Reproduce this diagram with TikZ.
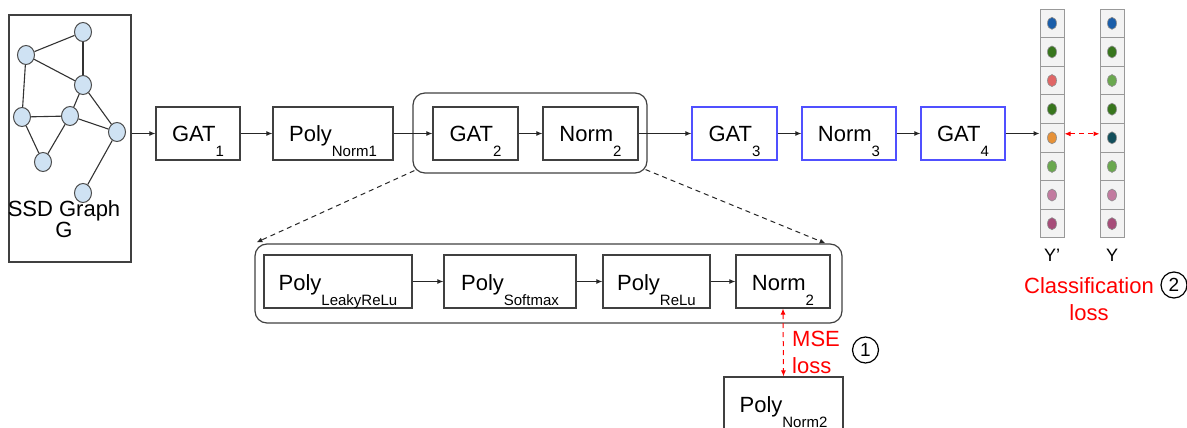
\documentclass[tikz,border=0pt]{standalone}
\usepackage{fontspec}
\setmainfont{Liberation Sans}
\usetikzlibrary{arrows.meta,shapes.geometric}
\definecolor{boxblue}{RGB}{80,80,255}
\definecolor{gblue}{HTML}{CFE2F3}
\definecolor{cblue}{HTML}{1B5EA9}
\definecolor{dgreen}{HTML}{38761D}
\definecolor{salmon}{HTML}{E06666}
\definecolor{corange}{HTML}{E69138}
\definecolor{lgreen}{HTML}{6AA84F}
\definecolor{cpink}{HTML}{C27BA0}
\definecolor{cmag}{HTML}{A64D79}
\definecolor{cteal}{HTML}{134F5C}
\definecolor{cellfill}{HTML}{F3F3F3}
\newcommand{\sbs}[1]{\raisebox{-15pt}{\fontsize{15}{15}\selectfont #1}}
\begin{document}
\begin{tikzpicture}[x=1pt,y=-1pt,
  box/.style={draw=black!75, line width=1.2pt, minimum height=53pt, inner sep=0pt,
    text height=17pt, text depth=0pt, font=\fontsize{22}{26}\selectfont},
  bbox/.style={box, draw=boxblue},
  cont/.style={draw=black!75, line width=1.2pt, rounded corners=12pt, inner sep=0pt},
  arr/.style={-{Latex[length=6pt,width=5pt]}, line width=1pt, draw=black!85},
  darr/.style={arr, dashed, dash pattern=on 5pt off 4pt},
  redarr/.style={{Latex[length=6pt,width=5pt]}-{Latex[length=6pt,width=5pt]}, line width=1pt, draw=red, dash pattern=on 5pt off 4pt},
  gn/.style={ellipse, draw=black!70, fill=gblue, line width=1pt, minimum width=17pt, minimum height=19pt, inner sep=0pt},
  gedge/.style={line width=1.1pt, draw=black!80},
  cell/.style={draw=black!40, fill=cellfill, line width=1pt, minimum width=24pt, minimum height=28.6pt, inner sep=0pt},
  dot/.style={ellipse, draw=black!45, line width=0.6pt, minimum width=9pt, minimum height=12pt, inner sep=0pt},
  circ/.style={circle, draw=black, line width=1.2pt, minimum size=26pt, inner sep=0pt, font=\fontsize{19}{19}\selectfont},
  lbl/.style={font=\fontsize{22}{19}\selectfont, align=center, inner sep=0pt},
  redlbl/.style={font=\fontsize{22}{27}\selectfont, text=red, inner sep=0pt}
]
\useasboundingbox (0,0) rectangle (1187,428);
\clip (0,0) rectangle (1187,428);

% graph box
\node[draw=black!75, line width=1.2pt, minimum width=122pt, minimum height=247pt, inner sep=0pt] (graph) at (70,138.5) {};
\node[gn] (g1) at (83,32) {};
\node[gn] (g2) at (26,55) {};
\node[gn] (g3) at (83,85) {};
\node[gn] (g4) at (22,117) {};
\node[gn] (g5) at (70,116) {};
\node[gn] (g6) at (117,132) {};
\node[gn] (g7) at (43,162) {};
\node[gn] (g8) at (83,193) {};
\foreach \a/\b in {g1/g2,g1/g3,g2/g3,g2/g4,g3/g5,g3/g6,g4/g5,g4/g7,g5/g7,g5/g6,g6/g8}
  \draw[gedge] (\a) -- (\b);
\node[lbl] (gtext) at (64,219) {SSD Graph\\G};

% top row
\node[cont, minimum width=234pt, minimum height=80pt] (uc) at (530,133) {};
\node[box, minimum width=84pt] (gat1) at (198,133.5) {GAT\sbs{1}};
\node[box, minimum width=120pt] (pn1) at (333,133.5) {Poly\sbs{Norm1}};
\node[box, minimum width=85pt] (gat2) at (475.5,133.5) {GAT\sbs{2}};
\node[box, minimum width=95pt] (norm2) at (590.5,133.5) {Norm\sbs{2}};
\node[bbox, minimum width=85pt] (gat3) at (734.5,133.5) {GAT\sbs{3}};
\node[bbox, minimum width=94pt] (norm3) at (849,133.5) {Norm\sbs{3}};
\node[bbox, minimum width=84pt] (gat4) at (963,133.5) {GAT\sbs{4}};

\draw[arr] (graph.east |- gat1.west) -- (gat1.west);
\draw[arr] (gat1) -- (pn1);
\draw[arr] (pn1) -- (gat2);
\draw[arr] (gat2) -- (norm2);
\draw[arr] (norm2) -- (gat3);
\draw[arr] (gat3) -- (norm3);
\draw[arr] (norm3) -- (gat4);

% lower row
\node[cont, minimum width=587pt, minimum height=79pt] (lc) at (548.5,283.5) {};
\node[box, minimum width=148pt] (plr) at (338,281.5) {Poly\sbs{LeakyReLu}};
\node[box, minimum width=132pt] (psm) at (510,281.5) {Poly\sbs{Softmax}};
\node[box, minimum width=107pt] (prl) at (656.5,281.5) {Poly\sbs{ReLu}};
\node[box, minimum width=94pt] (n2b) at (783,281.5) {Norm\sbs{2}};
\draw[arr] (plr) -- (psm);
\draw[arr] (psm) -- (prl);
\draw[arr] (prl) -- (n2b);

\draw[darr] ([xshift=2pt,yshift=3pt]uc.south west) -- ([xshift=2pt,yshift=1pt]lc.north west);
\draw[darr] ([xshift=-2pt,yshift=4pt]uc.south east) -- ([xshift=-17pt]lc.north east);

% PolyNorm2
\node[box, minimum width=119pt, minimum height=60pt, text height=10pt] (pn2) at (783.5,407) {Poly\sbs{Norm2}};
\draw[redarr] (n2b.south) -- (pn2.north);
\node[redlbl, anchor=west, align=left] (mse) at (792,352) {MSE\\loss};
\node[circ] (c1) at (865.5,350) {1};

% output columns
\foreach \c [count=\i] in {cblue,dgreen,salmon,dgreen,corange,lgreen,cpink,cmag} {
  \node[cell] (ya\i) at (1052,{9+28.625*(\i-0.5)}) {};
  \node[dot, fill=\c] (da\i) at (ya\i) {};
}
\foreach \c [count=\i] in {cblue,dgreen,lgreen,dgreen,cteal,lgreen,cpink,cmag} {
  \node[cell] (yb\i) at (1112,{9+28.625*(\i-0.5)}) {};
  \node[dot, fill=\c] (db\i) at (yb\i) {};
}
\draw[arr] (gat4.east) -- (gat4.east -| ya5.west);
\draw[redarr] ([yshift=4pt]ya5.east) -- ([yshift=4pt]yb5.west);
\node[font=\fontsize{18}{18}\selectfont, anchor=base, inner sep=0pt] (ylp) at (1052,261) {Y'};
\node[font=\fontsize{18}{18}\selectfont, anchor=base, inner sep=0pt] (yl) at (1112,261) {Y};
\node[redlbl, align=center] (cls) at (1089,299) {Classification\\loss};
\node[circ] (c2) at (1174,285) {2};
\end{tikzpicture}
\end{document}
